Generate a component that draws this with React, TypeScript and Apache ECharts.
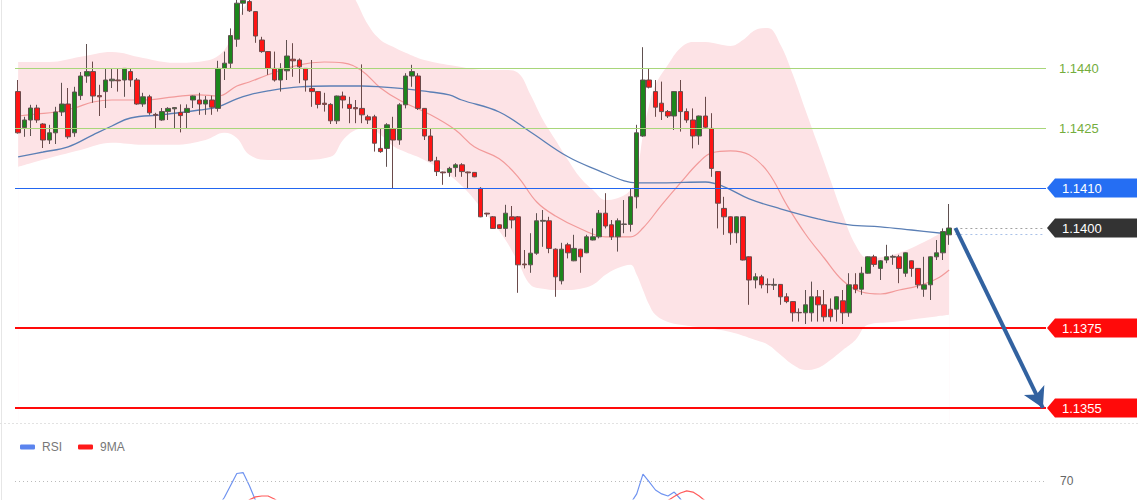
import React, { useEffect, useRef } from 'react';
import * as echarts from 'echarts';

// [open, close, low, high]
const candles: number[][] = [
  [1.14341,1.14238,1.14236,1.14370],[1.14251,1.14270,1.14228,1.14278],[1.14270,1.14300,1.14230,1.14308],[1.14300,1.14270,1.14263,1.14308],
  [1.14260,1.14220,1.14200,1.14262],[1.14220,1.14238,1.14210,1.14258],[1.14238,1.14290,1.14210,1.14303],[1.14290,1.14310,1.14280,1.14363],
  [1.14310,1.14228,1.14223,1.14350],[1.14238,1.14340,1.14228,1.14353],[1.14331,1.14380,1.14320,1.14390],[1.14380,1.14391,1.14363,1.14460],
  [1.14391,1.14330,1.14313,1.14416],[1.14331,1.14328,1.14280,1.14358],[1.14341,1.14370,1.14300,1.14400],[1.14368,1.14372,1.14350,1.14400],
  [1.14370,1.14368,1.14341,1.14400],[1.14370,1.14399,1.14328,1.14400],[1.14391,1.14370,1.14353,1.14400],[1.14370,1.14310,1.14308,1.14375],
  [1.14310,1.14328,1.14303,1.14338],[1.14328,1.14288,1.14283,1.14333],[1.14284,1.14282,1.14250,1.14288],[1.14270,1.14291,1.14268,1.14300],
  [1.14291,1.14299,1.14270,1.14302],[1.14298,1.14301,1.14250,1.14302],[1.14289,1.14281,1.14239,1.14309],[1.14289,1.14299,1.14250,1.14309],
  [1.14320,1.14330,1.14300,1.14331],[1.14320,1.14310,1.14283,1.14338],[1.14310,1.14320,1.14283,1.14330],[1.14320,1.14302,1.14283,1.14331],
  [1.14299,1.14399,1.14291,1.14418],[1.14399,1.14412,1.14370,1.14441],[1.14412,1.14481,1.14399,1.14499],[1.14472,1.14562,1.14453,1.14570],
  [1.14562,1.14569,1.14533,1.14575],[1.14566,1.14543,1.14540,1.14575],[1.14541,1.14480,1.14463,1.14542],[1.14470,1.14441,1.14438,1.14478],
  [1.14441,1.14399,1.14383,1.14442],[1.14399,1.14370,1.14366,1.14441],[1.14370,1.14399,1.14341,1.14412],[1.14393,1.14430,1.14370,1.14470],
  [1.14422,1.14418,1.14378,1.14462],[1.14420,1.14403,1.14362,1.14424],[1.14399,1.14370,1.14341,1.14400],[1.14349,1.14341,1.14303,1.14420],
  [1.14341,1.14309,1.14299,1.14342],[1.14312,1.14309,1.14291,1.14338],[1.14309,1.14268,1.14260,1.14312],[1.14268,1.14330,1.14260,1.14331],
  [1.14330,1.14320,1.14299,1.14341],[1.14309,1.14299,1.14262,1.14328],[1.14301,1.14298,1.14262,1.14320],[1.14299,1.14283,1.14262,1.14409],
  [1.14278,1.14270,1.14260,1.14283],[1.14278,1.14212,1.14191,1.14283],[1.14199,1.14191,1.14188,1.14249],[1.14199,1.14258,1.14153,1.14262],
  [1.14248,1.14220,1.14099,1.14278],[1.14220,1.14308,1.14208,1.14312],[1.14308,1.14380,1.14299,1.14387],[1.14380,1.14391,1.14353,1.14408],
  [1.14380,1.14299,1.14295,1.14387],[1.14299,1.14230,1.14220,1.14300],[1.14230,1.14168,1.14166,1.14249],[1.14168,1.14141,1.14130,1.14178],
  [1.14140,1.14138,1.14108,1.14141],[1.14139,1.14149,1.14128,1.14153],[1.14151,1.14158,1.14128,1.14162],[1.14158,1.14141,1.14128,1.14162],
  [1.14140,1.14138,1.14099,1.14141],[1.14139,1.14128,1.14127,1.14140],[1.14099,1.14028,1.14027,1.14102],[1.14037,1.14035,1.14028,1.14038],
  [1.14028,1.13999,1.13998,1.14030],[1.14008,1.13999,1.13998,1.14009],[1.13999,1.14037,1.13978,1.14058],[1.14028,1.14020,1.13999,1.14055],
  [1.14028,1.13908,1.13838,1.14030],[1.13910,1.13908,1.13899,1.13945],[1.13908,1.13937,1.13888,1.13987],[1.13937,1.14018,1.13933,1.14037],
  [1.14017,1.14019,1.13953,1.14045],[1.14018,1.13949,1.13937,1.14028],[1.13947,1.13878,1.13828,1.13949],[1.13868,1.13947,1.13859,1.13963],
  [1.13958,1.13938,1.13924,1.13963],[1.13918,1.13949,1.13917,1.13983],[1.13947,1.13928,1.13888,1.13948],[1.13938,1.13978,1.13937,1.13983],
  [1.13970,1.13978,1.13969,1.13999],[1.13978,1.14037,1.13974,1.14045],[1.14037,1.14005,1.13999,1.14087],[1.14008,1.13978,1.13970,1.14020],
  [1.13978,1.14018,1.13941,1.14024],[1.14009,1.14010,1.13987,1.14070],[1.14009,1.14078,1.13991,1.14099],[1.14078,1.14238,1.14049,1.14258],
  [1.14230,1.14370,1.14228,1.14452],[1.14370,1.14352,1.14349,1.14399],[1.14341,1.14302,1.14278,1.14370],[1.14312,1.14291,1.14270,1.14366],
  [1.14291,1.14280,1.14275,1.14295],[1.14280,1.14341,1.14245,1.14342],[1.14341,1.14291,1.14241,1.14370],[1.14291,1.14270,1.14263,1.14299],
  [1.14270,1.14230,1.14199,1.14299],[1.14230,1.14280,1.14208,1.14281],[1.14280,1.14252,1.14249,1.14328],[1.14249,1.14149,1.14128,1.14287],
  [1.14141,1.14062,1.13999,1.14142],[1.14049,1.14028,1.13983,1.14078],[1.14028,1.13988,1.13958,1.14029],[1.13988,1.14028,1.13962,1.14029],
  [1.14028,1.13920,1.13919,1.14029],[1.13928,1.13870,1.13808,1.13929],[1.13870,1.13878,1.13849,1.13887],[1.13878,1.13858,1.13849,1.13883],
  [1.13859,1.13858,1.13837,1.13874],[1.13857,1.13859,1.13845,1.13874],[1.13859,1.13828,1.13808,1.13860],[1.13828,1.13816,1.13812,1.13837],
  [1.13816,1.13788,1.13766,1.13817],[1.13789,1.13788,1.13766,1.13799],[1.13788,1.13808,1.13760,1.13845],[1.13788,1.13828,1.13766,1.13866],
  [1.13828,1.13808,1.13766,1.13845],[1.13808,1.13778,1.13766,1.13845],[1.13797,1.13778,1.13766,1.13824],[1.13797,1.13828,1.13766,1.13829],
  [1.13818,1.13788,1.13760,1.13845],[1.13788,1.13858,1.13778,1.13887],[1.13858,1.13847,1.13837,1.13887],[1.13847,1.13887,1.13833,1.13903],
  [1.13887,1.13928,1.13886,1.13929],[1.13928,1.13909,1.13903,1.13933],[1.13899,1.13918,1.13870,1.13920],[1.13920,1.13928,1.13912,1.13958],
  [1.13927,1.13929,1.13908,1.13933],[1.13928,1.13899,1.13862,1.13933],[1.13887,1.13938,1.13878,1.13939],[1.13918,1.13899,1.13878,1.13919],
  [1.13899,1.13858,1.13849,1.13900],[1.13847,1.13858,1.13828,1.13928],[1.13858,1.13928,1.13820,1.13929],[1.13928,1.13938,1.13920,1.13970],
  [1.13938,1.13991,1.13920,1.13999],[1.13983,1.14000,1.13958,1.14060],
];

// axis slots: candles plus empty room on the right for the projection arrow
const slotCount = 165;
const categories = Array.from({ length: slotCount }, (_, i) => String(i + 1));

const upperBand: [number, number][] = [
  [0,1.14415],[5,1.14415],[10,1.14428],[15,1.14440],[20,1.14425],[25,1.14413],[30,1.14418],[33,1.14445],[35,1.14515],[37,1.14570],
  [40,1.14608],[45,1.14683],[50,1.14670],[52,1.14620],[54,1.14570],[56,1.14508],[58,1.14470],[60,1.14453],[62,1.14438],[65,1.14420],
  [70,1.14405],[75,1.14395],[78,1.14395],[80,1.14388],[82,1.14333],[84,1.14270],[86,1.14220],[88,1.14170],[90,1.14125],[92,1.14095],
  [94,1.14070],[96,1.14075],[98,1.14095],[99,1.14133],[100,1.14233],[101,1.14308],[102,1.14358],[104,1.14408],[106,1.14450],[108,1.14465],
  [110,1.14465],[112,1.14460],[114,1.14455],[116,1.14470],[118,1.14495],[120,1.14500],[122,1.14458],[124,1.14383],[126,1.14295],[128,1.14208],
  [130,1.14120],[132,1.14033],[134,1.13958],[136,1.13925],[140,1.13933],[145,1.13965],[149,1.14000],
];
const lowerBand: [number, number][] = [
  [0,1.14153],[5,1.14175],[10,1.14195],[15,1.14213],[20,1.14208],[25,1.14208],[30,1.14220],[33,1.14238],[35,1.14225],[37,1.14183],
  [40,1.14170],[45,1.14170],[50,1.14178],[52,1.14220],[54,1.14245],[56,1.14250],[58,1.14233],[60,1.14205],[62,1.14190],[65,1.14170],
  [70,1.14120],[75,1.14033],[78,1.13970],[80,1.13915],[82,1.13858],[84,1.13848],[86,1.13845],[88,1.13845],[90,1.13848],[92,1.13858],
  [94,1.13883],[96,1.13900],[98,1.13908],[99,1.13883],[100,1.13845],[101,1.13808],[102,1.13783],[104,1.13765],[106,1.13758],[110,1.13750],
  [114,1.13740],[118,1.13720],[120,1.13708],[122,1.13683],[124,1.13658],[126,1.13645],[128,1.13650],[130,1.13670],[132,1.13695],[134,1.13720],
  [136,1.13758],[140,1.13765],[145,1.13775],[149,1.13783],
];
const maRed: [number, number][] = [
  [0,1.14280],[3,1.14285],[6,1.14290],[9,1.14300],[12,1.14315],[15,1.14320],[20,1.14320],[25,1.14328],[29,1.14333],[32,1.14330],
  [35,1.14355],[37,1.14365],[40,1.14383],[45,1.14408],[49,1.14415],[52,1.14413],[55,1.14393],[58,1.14350],[61,1.14320],[66,1.14283],
  [70,1.14245],[73,1.14203],[77,1.14173],[80,1.14128],[83,1.14065],[86,1.14030],[90,1.13998],[94,1.13978],[98,1.13978],[100,1.14000],
  [103,1.14058],[106,1.14113],[109,1.14165],[111,1.14188],[114,1.14193],[117,1.14183],[120,1.14140],[123,1.14058],[126,1.13985],[129,1.13925],
  [132,1.13868],[135,1.13840],[138,1.13835],[141,1.13845],[144,1.13855],[147,1.13873],[149,1.13895],
];
const maBlue: [number, number][] = [
  [0,1.14178],[4,1.14190],[8,1.14203],[12,1.14233],[15,1.14255],[18,1.14275],[23,1.14283],[29,1.14295],[32,1.14303],[35,1.14323],
  [37,1.14333],[40,1.14343],[45,1.14353],[50,1.14355],[55,1.14355],[58,1.14353],[62,1.14348],[66,1.14340],[69,1.14333],[71,1.14320],
  [77,1.14290],[82,1.14240],[88,1.14178],[93,1.14143],[97,1.14118],[99,1.14113],[103,1.14113],[110,1.14115],[113,1.14103],[117,1.14073],
  [122,1.14048],[128,1.14023],[133,1.14008],[138,1.14003],[143,1.13995],[149,1.13985],
];
const rsiLine: [number, number | string][] = [
  [31,58],[32,61.5],[33,64.5],[34,68.5],[35,72.5],[36,72.8],[37,68.5],[38,63.5],[39,59],[40,'-'],
  [96,58],[97,60],[98,62.5],[99,65.7],[100,72.3],[101,69.7],[102,67],[103,65.7],[104,65],[105,66.3],[106,64],[107,61],[108,58],
];
const rsiMa: [number, number | string][] = [
  [35,60],[36,62],[37,63.7],[38,64.7],[39,65],[40,65],[41,64],[42,62.5],[43,60],[44,'-'],
  [102,58],[103,61],[104,63.5],[105,64.8],[106,66],[107,66.7],[108,66.3],[109,65],[110,63.3],[111,61],[112,58],
];

const greenLevels = [1.144, 1.1425];
const blueLevel = 1.141;
const redLevels = [1.1375, 1.1355];
const rsiLevel = 70;
const arrowFrom = { slot: 150, price: 1.14 };
const arrowTo = { slot: 164, price: 1.1355 };

const FONT = "'Liberation Sans', Arial, sans-serif";

export default function App() {
  const ref = useRef<HTMLDivElement>(null);
  useEffect(() => {
    if (!ref.current) return;
    const chart = echarts.init(ref.current, null, { renderer: 'svg' });
    const lastClose = candles[candles.length - 1][1];
    const lastBlue = maBlue[maBlue.length - 1][1];
    const lastSlot = candles.length;

    const option: any = {
      animation: false,
      grid: [
        { left: 15, top: 0, width: 1031, height: 422 },
        { left: 15, top: 451, width: 1031, height: 48 },
      ],
      legend: {
        data: ['RSI', '9MA'],
        left: 15,
        top: 436,
        icon: 'roundRect',
        itemWidth: 15,
        itemHeight: 5,
        itemGap: 16,
        textStyle: { color: '#777', fontSize: 12, fontFamily: FONT, padding: [0, 0, 0, 2] },
        selectedMode: false,
      },
      xAxis: [
        { type: 'category', data: categories, boundaryGap: true, show: false, gridIndex: 0 },
        { type: 'category', data: categories, boundaryGap: true, show: false, gridIndex: 1 },
      ],
      yAxis: [
        { type: 'value', min: 1.13515, max: 1.1457, show: false, splitLine: { show: false }, gridIndex: 0 },
        { type: 'value', min: 64, max: 80, show: false, splitLine: { show: false }, gridIndex: 1 },
      ],
      series: [
        {
          name: 'upper', type: 'line', data: upperBand, symbol: 'none', smooth: 0.4, z: 1,
          lineStyle: { width: 0 }, areaStyle: { color: '#fde3e6', opacity: 1, origin: 'start' }, silent: true,
        },
        {
          name: 'lower', type: 'line', data: lowerBand, symbol: 'none', smooth: 0.4, z: 1.5,
          lineStyle: { width: 0 }, areaStyle: { color: '#ffffff', opacity: 1, origin: 'start' }, silent: true,
        },
        {
          name: 'maRed', type: 'line', data: maRed, symbol: 'none', smooth: 0.4, z: 2,
          lineStyle: { color: '#f29a9a', width: 1.2 }, silent: true,
        },
        {
          name: 'maBlue', type: 'line', data: maBlue, symbol: 'none', smooth: 0.4, z: 2,
          lineStyle: { color: '#5b7fb5', width: 1.3 }, silent: true,
          markLine: {
            silent: true, symbol: ['none', 'none'], precision: 5,
            data: [
              ...greenLevels.map((v) => ({
                yAxis: v,
                lineStyle: { color: '#a8d67a', width: 1, type: 'solid' },
                label: { show: true, position: 'end', distance: 13, formatter: () => v.toFixed(4), color: '#74ad3c', fontSize: 13, fontFamily: FONT },
              })),
              { yAxis: blueLevel, lineStyle: { color: '#2266f0', width: 1.2, type: 'solid' }, label: { show: false } },
              ...redLevels.map((v) => ({ yAxis: v, lineStyle: { color: '#ff0a0a', width: 2.2, type: 'solid' }, label: { show: false } })),
              [
                { coord: [lastSlot, lastClose], lineStyle: { color: '#a0a0a0', width: 1, type: [2, 3] }, label: { show: false } },
                { coord: [slotCount - 1, lastClose] },
              ],
              [
                { coord: [lastSlot, lastBlue], lineStyle: { color: '#a9c0e8', width: 1, type: [2, 3] }, label: { show: false } },
                { coord: [slotCount - 1, lastBlue] },
              ],
            ],
          },
        },
        {
          name: 'price', type: 'candlestick', data: candles, barWidth: 5, z: 3, silent: true,
          itemStyle: { color: '#1c861c', color0: '#ff1414', borderColor: '#5f5050', borderColor0: '#6a4a4a', borderWidth: 1 },
        },
        {
          name: 'arrow', type: 'line', data: [], z: 5, silent: true,
          markLine: {
            silent: true, z: 5, precision: 5,
            data: [[
              { coord: [arrowFrom.slot, arrowFrom.price], symbol: 'none', lineStyle: { color: '#3262a0', width: 4, type: 'solid' }, label: { show: false } },
              { coord: [arrowTo.slot, arrowTo.price], symbol: 'arrow', symbolSize: [17, 20] },
            ]],
          },
        },
        {
          name: 'RSI', type: 'line', xAxisIndex: 1, yAxisIndex: 1, data: rsiLine, symbol: 'none', connectNulls: false,
          lineStyle: { color: '#6f93f0', width: 1.2 }, itemStyle: { color: '#5b84ee' }, silent: true,
          markLine: {
            silent: true, symbol: ['none', 'none'],
            data: [{
              yAxis: rsiLevel,
              lineStyle: { color: '#bbbbbb', width: 1, type: [1, 3] },
              label: { show: true, position: 'end', distance: 14, formatter: String(rsiLevel), color: '#666', fontSize: 12, fontFamily: FONT },
            }],
          },
        },
        {
          name: '9MA', type: 'line', xAxisIndex: 1, yAxisIndex: 1, data: rsiMa, symbol: 'none', connectNulls: false,
          lineStyle: { color: '#ff5c5c', width: 1.2 }, itemStyle: { color: '#ff1a1a' }, silent: true,
        },
      ],
    };
    chart.setOption(option);

    const tag = (value: number, color: string) => {
      const y = chart.convertToPixel({ yAxisIndex: 0 }, value) as number;
      return {
        type: 'group',
        silent: true,
        children: [
          { type: 'polygon', shape: { points: [[1047, y], [1055, y - 9.5], [1137, y - 9.5], [1137, y + 9.5], [1055, y + 9.5]] }, style: { fill: color } },
          { type: 'text', x: 1062, y, style: { text: value.toFixed(4), fill: '#ffffff', fontSize: 13, fontFamily: FONT, verticalAlign: 'middle' } },
        ],
      };
    };

    chart.setOption({
      graphic: [
        { type: 'line', silent: true, shape: { x1: 1.5, y1: 0, x2: 1.5, y2: 500 }, style: { stroke: '#e6e6e6', lineWidth: 1 } },
        { type: 'line', silent: true, shape: { x1: 0, y1: 423.5, x2: 1140, y2: 423.5 }, style: { stroke: '#e2e2e2', lineWidth: 1, lineDash: [2, 2] } },
        tag(blueLevel, '#256ef3'),
        tag(lastClose, '#333333'),
        ...redLevels.map((v) => tag(v, '#ff0a0a')),
      ],
    });

    return () => chart.dispose();
  }, []);

  return <div ref={ref} style={{ position: 'absolute', left: 0, top: 0, width: 1140, height: 500 }} />;
}
